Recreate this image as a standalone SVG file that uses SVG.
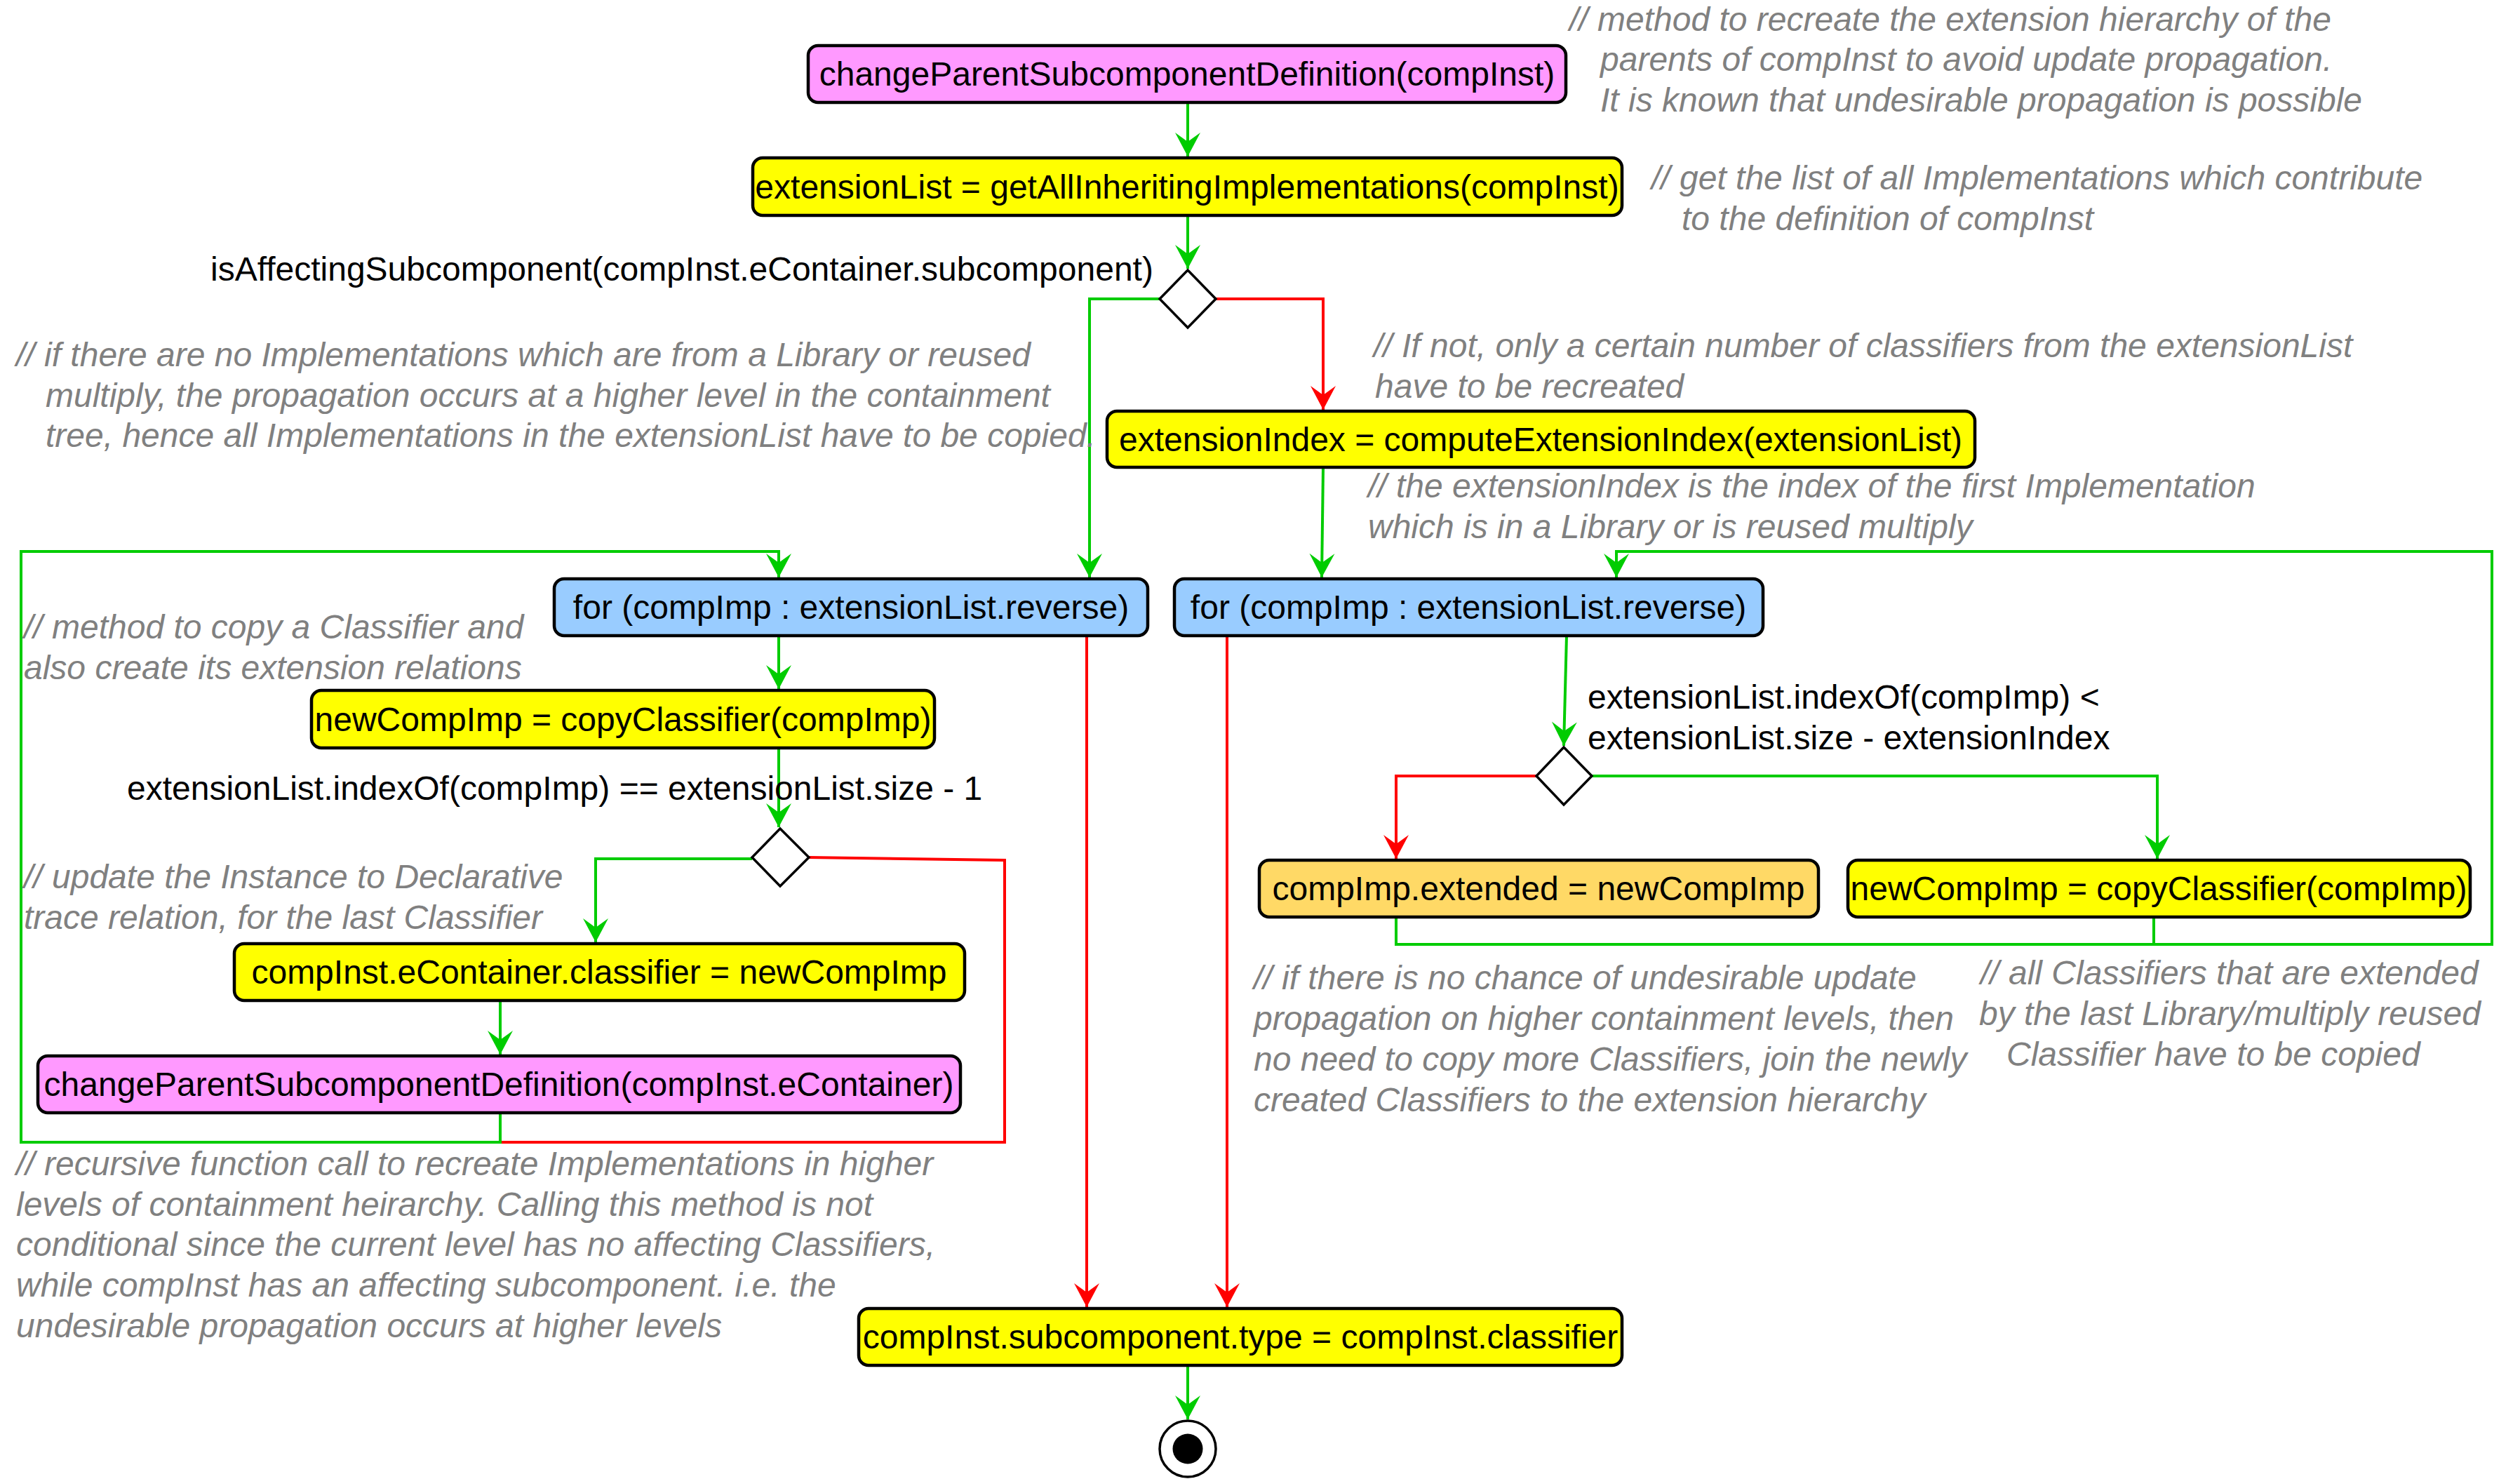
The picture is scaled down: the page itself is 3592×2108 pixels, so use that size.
<svg xmlns="http://www.w3.org/2000/svg" width="3592" height="2108" viewBox="0 0 3592 2108">
<style>
text{font-family:"Liberation Sans",Arial,sans-serif;font-size:48px}
.t{fill:#000;text-anchor:middle}
.l{fill:#000}
.c{fill:#808080;font-style:italic}
.box{stroke:#000;stroke-width:4.5}
.pink{fill:#FF99FF}
.yel{fill:#FFFF00}
.blue{fill:#99CCFF}
.org{fill:#FFD966}
.dia{fill:#fff;stroke:#000;stroke-width:3.5}
.g{fill:none;stroke:#00CC00;stroke-width:4}
.r{fill:none;stroke:#FF0000;stroke-width:4}
.ga{marker-end:url(#ag)}
.ra{marker-end:url(#ar)}
</style>
<defs>
<marker id="ag" markerUnits="userSpaceOnUse" markerWidth="40" markerHeight="40" viewBox="-36 -20 40 40" refX="0" refY="0" orient="auto"><path d="M0,0 L-34,-18 L-21,0 L-34,18 Z" fill="#00CC00"/></marker>
<marker id="ar" markerUnits="userSpaceOnUse" markerWidth="40" markerHeight="40" viewBox="-36 -20 40 40" refX="0" refY="0" orient="auto"><path d="M0,0 L-34,-18 L-21,0 L-34,18 Z" fill="#FF0000"/></marker>
</defs>
<rect width="3592" height="2108" fill="#fff"/>

<g id="connectors">
<path class="g ga" d="M1693,146 V223"/>
<path class="g ga" d="M1693,307 V383"/>
<path class="g ga" d="M1653,426 H1553 V823"/>
<path class="r ra" d="M1733,426 H1886 V584"/>
<path class="g ga" d="M1886,666 L1884,823"/>
<path class="g ga" d="M1110,906 V982"/>
<path class="g ga" d="M1110,1066 V1179"/>
<path class="g ga" d="M1072,1224 H849 V1343"/>
<path class="r" d="M1152,1222 L1432,1226 V1628 H713"/>
<path class="g ga" d="M713,1426 V1503"/>
<path class="g ga" d="M713,1586 V1628 H30 V786 H1110 V823"/>
<path class="r ra" d="M1549,906 V1863"/>
<path class="r ra" d="M1749,906 V1863"/>
<path class="g ga" d="M2233,906 L2229,1063"/>
<path class="r ra" d="M2190,1106 H1990 V1224"/>
<path class="g ga" d="M2269,1106 H3075 V1224"/>
<path class="g ga" d="M1990,1307 V1346 H3552 V786 H2304 V823"/>
<path class="g" d="M3070,1307 V1346"/>
<path class="g ga" d="M1693,1946 V2023"/>
</g>

<g id="start">
<rect class="box pink" x="1152" y="65" width="1080" height="81" rx="14"/>
<text class="t" x="1692" y="122">changeParentSubcomponentDefinition(compInst)</text>
</g>
<g id="extList">
<rect class="box yel" x="1073" y="225" width="1239" height="82" rx="14"/>
<text class="t" x="1692" y="283">extensionList = getAllInheritingImplementations(compInst)</text>
</g>
<g id="decision1">
<polygon class="dia" points="1693,385 1733,426 1693,467 1653,426"/>
<text class="l" x="300" y="400">isAffectingSubcomponent(compInst.eContainer.subcomponent)</text>
</g>
<g id="extIndex">
<rect class="box yel" x="1578" y="586" width="1237" height="80" rx="14"/>
<text class="t" x="2196" y="643">extensionIndex = computeExtensionIndex(extensionList)</text>
</g>
<g id="forLeft">
<rect class="box blue" x="790" y="825" width="846" height="81" rx="14"/>
<text class="t" x="1213" y="882">for (compImp : extensionList.reverse)</text>
</g>
<g id="copyLeft">
<rect class="box yel" x="444" y="984" width="888" height="82" rx="14"/>
<text class="t" x="888" y="1042">newCompImp = copyClassifier(compImp)</text>
</g>
<g id="decision2">
<polygon class="dia" points="1112,1181 1153,1222 1112,1263 1072,1222"/>
<text class="l" x="181" y="1140">extensionList.indexOf(compImp) == extensionList.size - 1</text>
</g>
<g id="setClassifier">
<rect class="box yel" x="334" y="1345" width="1041" height="81" rx="14"/>
<text class="t" x="854" y="1402">compInst.eContainer.classifier = newCompImp</text>
</g>
<g id="recursive">
<rect class="box pink" x="54" y="1505" width="1315" height="81" rx="14"/>
<text class="t" x="711" y="1562">changeParentSubcomponentDefinition(compInst.eContainer)</text>
</g>
<g id="forRight">
<rect class="box blue" x="1674" y="825" width="839" height="81" rx="14"/>
<text class="t" x="2093" y="882">for (compImp : extensionList.reverse)</text>
</g>
<g id="decision3">
<polygon class="dia" points="2229,1065 2269,1106 2229,1147 2190,1106"/>
<text class="l" x="2263" y="1010">extensionList.indexOf(compImp) &lt;</text>
<text class="l" x="2263" y="1068">extensionList.size - extensionIndex</text>
</g>
<g id="extended">
<rect class="box org" x="1795" y="1226" width="797" height="81" rx="14"/>
<text class="t" x="2193" y="1283">compImp.extended = newCompImp</text>
</g>
<g id="copyRight">
<rect class="box yel" x="2634" y="1226" width="887" height="81" rx="14"/>
<text class="t" x="3077" y="1283">newCompImp = copyClassifier(compImp)</text>
</g>
<g id="setType">
<rect class="box yel" x="1224" y="1865" width="1088" height="81" rx="14"/>
<text class="t" x="1768" y="1922">compInst.subcomponent.type = compInst.classifier</text>
</g>
<g id="end">
<circle cx="1693" cy="2065" r="40" fill="#fff" stroke="#000" stroke-width="3.5"/>
<circle cx="1693" cy="2065" r="21.5" fill="#000"/>
</g>

<g id="comments">
<text class="c" x="2237" y="44">// method to recreate the extension hierarchy of the</text>
<text class="c" x="2281" y="101">parents of compInst to avoid update propagation.</text>
<text class="c" x="2281" y="159">It is known that undesirable propagation is possible</text>
<text class="c" x="2354" y="270">// get the list of all Implementations which contribute</text>
<text class="c" x="2397" y="328">to the definition of compInst</text>
<text class="c" x="1958" y="509">// If not, only a certain number of classifiers from the extensionList</text>
<text class="c" x="1960" y="567">have to be recreated</text>
<text class="c" x="23" y="522">// if there are no Implementations which are from a Library or reused</text>
<text class="c" x="65" y="580">multiply, the propagation occurs at a higher level in the containment</text>
<text class="c" x="65" y="637">tree, hence all Implementations in the extensionList have to be copied.</text>
<text class="c" x="1950" y="709">// the extensionIndex is the index of the first Implementation</text>
<text class="c" x="1950" y="767">which is in a Library or is reused multiply</text>
<text class="c" x="34" y="910">// method to copy a Classifier and</text>
<text class="c" x="34" y="968">also create its extension relations</text>
<text class="c" x="34" y="1266">// update the Instance to Declarative</text>
<text class="c" x="34" y="1324">trace relation, for the last Classifier</text>
<text class="c" x="23" y="1675">// recursive function call to recreate Implementations in higher</text>
<text class="c" x="23" y="1733">levels of containment heirarchy. Calling this method is not</text>
<text class="c" x="23" y="1790">conditional since the current level has no affecting Classifiers,</text>
<text class="c" x="23" y="1848">while compInst has an affecting subcomponent. i.e. the</text>
<text class="c" x="23" y="1906">undesirable propagation occurs at higher levels</text>
<text class="c" x="1787" y="1410">// if there is no chance of undesirable update</text>
<text class="c" x="1787" y="1468">propagation on higher containment levels, then</text>
<text class="c" x="1787" y="1526">no need to copy more Classifiers, join the newly</text>
<text class="c" x="1787" y="1584">created Classifiers to the extension hierarchy</text>
<text class="c" x="2823" y="1403">// all Classifiers that are extended</text>
<text class="c" x="2821" y="1461">by the last Library/multiply reused</text>
<text class="c" x="2860" y="1519">Classifier have to be copied</text>
</g>
</svg>
